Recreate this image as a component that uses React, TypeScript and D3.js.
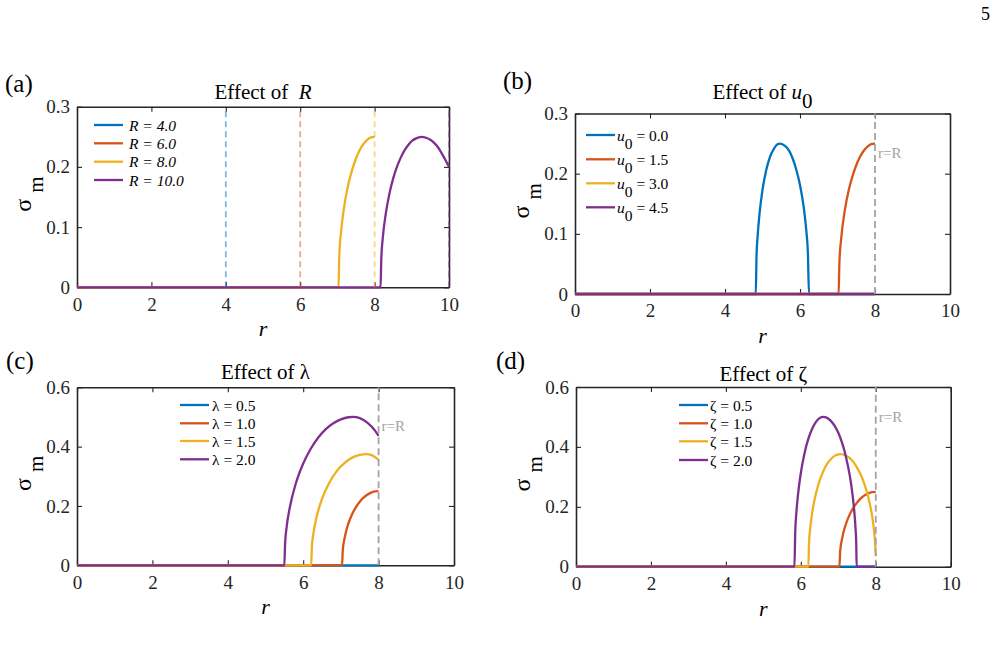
import { useEffect, useRef } from 'react';
import * as d3 from 'd3';

type Pt = [number, number];
type Part = { t: string; it?: boolean; sub?: boolean; size?: number };

const WIDTH = 997;
const HEIGHT = 663;
const SERIF = 'Liberation Serif, Times New Roman, serif';

const BLUE = '#0072BD';
const ORANGE = '#D95319';
const YELLOW = '#EDB120';
const PURPLE = '#7E2F8E';
const COLORS = [BLUE, ORANGE, YELLOW, PURPLE];
const AXIS = '#262626';
const REF_GRAY = '#a3a3a3';

const X_TICKS = [0, 2, 4, 6, 8, 10];
const Y_TICKS_LOW = [0, 0.1, 0.2, 0.3];
const Y_TICKS_HIGH = [0, 0.2, 0.4, 0.6];

// shared branch: onset near r = 7.03, reaching 0.25 at the edge r = 8
const ARC_TO_8: Pt[] = [
  [0, 0], [7.03, 0], [7.05, 0.051], [7.1, 0.093], [7.2, 0.141], [7.3, 0.173], [7.4, 0.196],
  [7.5, 0.214], [7.6, 0.228], [7.7, 0.238], [7.8, 0.245], [7.9, 0.249], [8, 0.25],
];
const ZERO_TO_8: Pt[] = [[0, 0], [8, 0]];

// (a) effect of R
const R_VALUES = [4, 6, 8, 10];
const R_LABELS = ['R = 4.0', 'R = 6.0', 'R = 8.0', 'R = 10.0'];
const SIGMA_R4: Pt[] = [[0, 0], [4, 0]];
const SIGMA_R6: Pt[] = [[0, 0], [6, 0]];
const SIGMA_R8: Pt[] = ARC_TO_8;
const SIGMA_R10: Pt[] = [
  [0, 0], [8.16, 0], [8.18, 0.047], [8.22, 0.082], [8.3, 0.122], [8.4, 0.156], [8.5, 0.181],
  [8.6, 0.2], [8.7, 0.215], [8.8, 0.227], [8.9, 0.236], [9, 0.243], [9.1, 0.247], [9.26, 0.25],
  [9.4, 0.248], [9.5, 0.245], [9.6, 0.24], [9.7, 0.233], [9.8, 0.223], [9.9, 0.212], [10, 0.2],
];

// (b) effect of u0
const U0_LABELS = ['0.0', '1.5', '3.0', '4.5'];
const SIGMA_U00: Pt[] = [
  [0, 0], [4.82, 0], [4.84, 0.062], [4.87, 0.096], [4.92, 0.133], [5, 0.173], [5.1, 0.206],
  [5.2, 0.228], [5.3, 0.241], [5.4, 0.249], [5.47, 0.25], [5.6, 0.246], [5.7, 0.239], [5.8, 0.226],
  [5.9, 0.207], [6, 0.181], [6.1, 0.144], [6.17, 0.104], [6.21, 0.069], [6.24, 0], [8, 0],
];
const SIGMA_U15: Pt[] = ARC_TO_8;
const SIGMA_U30: Pt[] = ZERO_TO_8;
const SIGMA_U45: Pt[] = ZERO_TO_8;

// (c) effect of lambda
const LAMBDA_LABELS = ['0.5', '1.0', '1.5', '2.0'];
const SIGMA_L05: Pt[] = ZERO_TO_8;
const SIGMA_L10: Pt[] = ARC_TO_8;
const SIGMA_L15: Pt[] = [
  [0, 0], [6.21, 0], [6.23, 0.062], [6.27, 0.107], [6.35, 0.16], [6.5, 0.224], [6.7, 0.28],
  [6.9, 0.319], [7.1, 0.345], [7.3, 0.363], [7.5, 0.372], [7.67, 0.375], [7.8, 0.372],
  [7.9, 0.365], [8, 0.355],
];
const SIGMA_L20: Pt[] = [
  [0, 0], [5.5, 0], [5.52, 0.074], [5.56, 0.128], [5.65, 0.198], [5.8, 0.274], [6, 0.343],
  [6.2, 0.393], [6.4, 0.431], [6.6, 0.459], [6.8, 0.479], [7, 0.492], [7.2, 0.499], [7.33, 0.5],
  [7.5, 0.496], [7.7, 0.481], [7.9, 0.455], [8, 0.436],
];

// (d) effect of zeta
const ZETA_LABELS = ['0.5', '1.0', '1.5', '2.0'];
const SIGMA_Z05: Pt[] = ZERO_TO_8;
const SIGMA_Z10: Pt[] = ARC_TO_8;
const SIGMA_Z15: Pt[] = [
  [0, 0], [6.2, 0], [6.22, 0.082], [6.25, 0.127], [6.3, 0.177], [6.4, 0.242], [6.5, 0.287],
  [6.6, 0.319], [6.7, 0.343], [6.8, 0.359], [6.9, 0.37], [7.05, 0.376], [7.2, 0.371], [7.3, 0.363],
  [7.4, 0.35], [7.5, 0.331], [7.6, 0.307], [7.7, 0.275], [7.8, 0.232], [7.9, 0.171], [7.95, 0.125],
  [7.98, 0.084], [8, 0.035],
];
const SIGMA_Z20: Pt[] = [
  [0, 0], [5.83, 0], [5.85, 0.113], [5.88, 0.178], [5.93, 0.246], [6, 0.313], [6.1, 0.38],
  [6.2, 0.427], [6.3, 0.46], [6.4, 0.483], [6.5, 0.496], [6.6, 0.5], [6.7, 0.497], [6.8, 0.487],
  [6.9, 0.471], [7, 0.447], [7.1, 0.414], [7.2, 0.369], [7.3, 0.309], [7.38, 0.241], [7.43, 0.18],
  [7.46, 0.129], [7.48, 0.074], [7.49, 0], [8, 0],
];

interface Panel {
  tag: string;
  box: { l: number; r: number; t: number; b: number };
  yMax: number;
  yTicks: number[];
  series: Pt[][];
  labels: Part[][];
  title: Part[];
  titleY: number;
  tagPos: [number, number];
  legend: { x0: number; x1: number; tx: number; rows: number[]; size: number };
  rDashes?: number[];
  edgeText?: number; // y of the "r=R" note
}

const PANELS: Panel[] = [
  {
    tag: '(a)',
    box: { l: 77, r: 449, t: 106.7, b: 287.3 },
    yMax: 0.3,
    yTicks: Y_TICKS_LOW,
    series: [SIGMA_R4, SIGMA_R6, SIGMA_R8, SIGMA_R10],
    labels: R_LABELS.map((s) => [{ t: s, it: true }]),
    title: [{ t: 'Effect of  ' }, { t: 'R', it: true }],
    titleY: 99.3,
    tagPos: [5, 92],
    legend: { x0: 94, x1: 123, tx: 129, rows: [125, 143.3, 161.7, 180], size: 15.5 },
    rDashes: R_VALUES,
  },
  {
    tag: '(b)',
    box: { l: 575, r: 950, t: 113.5, b: 294 },
    yMax: 0.3,
    yTicks: Y_TICKS_LOW,
    series: [SIGMA_U00, SIGMA_U15, SIGMA_U30, SIGMA_U45],
    labels: U0_LABELS.map((s) => [{ t: 'u', it: true }, { t: '0', sub: true }, { t: ` = ${s}` }]),
    title: [{ t: 'Effect of ' }, { t: 'u', it: true }, { t: '0', sub: true }],
    titleY: 99.3,
    tagPos: [503, 89],
    legend: { x0: 586, x1: 615, tx: 617, rows: [135, 159.3, 183.3, 207.3], size: 15.5 },
    edgeText: 158,
  },
  {
    tag: '(c)',
    box: { l: 77, r: 454, t: 387.3, b: 565.3 },
    yMax: 0.6,
    yTicks: Y_TICKS_HIGH,
    series: [SIGMA_L05, SIGMA_L10, SIGMA_L15, SIGMA_L20],
    labels: LAMBDA_LABELS.map((s) => [{ t: `λ = ${s}` }]),
    title: [{ t: 'Effect of λ' }],
    titleY: 379.3,
    tagPos: [6, 369],
    legend: { x0: 180, x1: 209, tx: 212, rows: [405, 423.3, 441, 459.3], size: 15.5 },
    edgeText: 431,
  },
  {
    tag: '(d)',
    box: { l: 576, r: 950.7, t: 387, b: 566.7 },
    yMax: 0.6,
    yTicks: Y_TICKS_HIGH,
    series: [SIGMA_Z05, SIGMA_Z10, SIGMA_Z15, SIGMA_Z20],
    labels: ZETA_LABELS.map((s) => [{ t: `ζ = ${s}` }]),
    title: [{ t: 'Effect of ζ' }],
    titleY: 381,
    tagPos: [496, 369],
    legend: { x0: 679, x1: 708, tx: 710, rows: [405, 423.3, 441.3, 460], size: 15.5 },
    edgeText: 422,
  },
];

// append styled runs (italic / subscript) to a text element
function richText(
  text: d3.Selection<SVGTextElement, unknown, null, undefined>,
  parts: Part[],
  subShift: number,
) {
  let down = false;
  parts.forEach((p) => {
    const ts = text.append('tspan').text(p.t);
    if (p.it) ts.attr('font-style', 'italic');
    if (p.size) ts.attr('font-size', p.size);
    if (p.sub && !down) {
      ts.attr('dy', subShift);
      down = true;
    } else if (!p.sub && down) {
      ts.attr('dy', -subShift);
      down = false;
    }
  });
}

function drawPanel(svg: d3.Selection<SVGSVGElement, unknown, null, undefined>, p: Panel) {
  const { l, r, t, b } = p.box;
  const x = d3.scaleLinear().domain([0, 10]).range([l, r]);
  const y = d3.scaleLinear().domain([0, p.yMax]).range([b, t]);
  const g = svg.append('g');
  const tick = 5;

  const styleAxis = (sel: d3.Selection<SVGGElement, unknown, null, undefined>) => {
    sel.attr('color', AXIS);
    sel.selectAll('text')
      .attr('font-family', SERIF)
      .attr('font-size', 19)
      .style('font-family', SERIF)
      .style('font-size', '19px');
    sel.select('.domain').attr('stroke-width', 1.6);
    sel.selectAll('.tick line').attr('stroke-width', 1.1);
  };

  // box with inward ticks on all sides
  g.append('g')
    .attr('transform', `translate(0,${b})`)
    .call(d3.axisBottom(x).tickValues(X_TICKS).tickSizeInner(-tick).tickSizeOuter(0).tickPadding(10).tickFormat((d) => String(d)))
    .call(styleAxis);
  g.append('g')
    .attr('transform', `translate(0,${t})`)
    .call(d3.axisTop(x).tickValues(X_TICKS).tickSizeInner(-tick).tickSizeOuter(0).tickFormat(() => ''))
    .call(styleAxis);
  g.append('g')
    .attr('transform', `translate(${l},0)`)
    .call(d3.axisLeft(y).tickValues(p.yTicks).tickSizeInner(-tick).tickSizeOuter(0).tickPadding(7).tickFormat((d) => String(d)))
    .call(styleAxis);
  g.append('g')
    .attr('transform', `translate(${r},0)`)
    .call(d3.axisRight(y).tickValues(p.yTicks).tickSizeInner(-tick).tickSizeOuter(0).tickFormat(() => ''))
    .call(styleAxis);

  // curves
  const line = d3.line<Pt>()
    .x((d) => x(d[0]))
    .y((d) => y(d[1]))
    .curve(d3.curveMonotoneX);
  p.series.forEach((s, i) => {
    g.append('path')
      .datum(s)
      .attr('fill', 'none')
      .attr('stroke', COLORS[i])
      .attr('stroke-width', 2.3)
      .attr('stroke-linejoin', 'round')
      .attr('d', line);
  });

  // dashed markers at each R
  if (p.rDashes) {
    p.rDashes.forEach((v, i) => {
      g.append('line')
        .attr('x1', x(v)).attr('x2', x(v))
        .attr('y1', y(0)).attr('y2', y(p.yMax))
        .attr('stroke', COLORS[i])
        .attr('stroke-opacity', 0.5)
        .attr('stroke-width', 1.8)
        .attr('stroke-dasharray', '6,4');
    });
  }

  // r = R edge
  if (p.edgeText !== undefined) {
    g.append('line')
      .attr('x1', x(8)).attr('x2', x(8))
      .attr('y1', y(0)).attr('y2', y(p.yMax))
      .attr('stroke', REF_GRAY)
      .attr('stroke-width', 1.8)
      .attr('stroke-dasharray', '7,4');
    g.append('text')
      .attr('x', x(8) + 3)
      .attr('y', p.edgeText)
      .attr('font-family', SERIF)
      .attr('font-size', 15)
      .attr('fill', REF_GRAY)
      .text('r=R');
  }

  // legend
  const lg = p.legend;
  p.labels.forEach((parts, i) => {
    const ry = lg.rows[i];
    g.append('line')
      .attr('x1', lg.x0).attr('x2', lg.x1)
      .attr('y1', ry).attr('y2', ry)
      .attr('stroke', COLORS[i])
      .attr('stroke-width', 2.3);
    const txt = g.append('text')
      .attr('x', lg.tx)
      .attr('y', ry + 5.5)
      .attr('font-family', SERIF)
      .attr('font-size', lg.size)
      .attr('fill', '#000')
      .style('white-space', 'pre');
    richText(txt, parts, 8);
  });

  // title
  const title = g.append('text')
    .attr('x', (l + r) / 2)
    .attr('y', p.titleY)
    .attr('text-anchor', 'middle')
    .attr('font-family', SERIF)
    .attr('font-size', 21)
    .attr('fill', '#000')
    .style('white-space', 'pre');
  richText(title, p.title, 9);

  // axis labels
  g.append('text')
    .attr('x', (l + r) / 2)
    .attr('y', b + 49)
    .attr('text-anchor', 'middle')
    .attr('font-family', SERIF)
    .attr('font-style', 'italic')
    .attr('font-size', 22)
    .attr('fill', '#000')
    .text('r');

  const ylab = g.append('text')
    .attr('transform', `translate(${l - 46},${(t + b) / 2 - 3}) rotate(-90)`)
    .attr('text-anchor', 'middle')
    .attr('font-family', SERIF)
    .attr('font-size', 21)
    .attr('fill', '#000')
    .style('white-space', 'pre');
  richText(ylab, [{ t: 'σ ', size: 24 }, { t: 'm', sub: true }], 12);

  // panel tag
  g.append('text')
    .attr('x', p.tagPos[0])
    .attr('y', p.tagPos[1])
    .attr('font-family', SERIF)
    .attr('font-size', 25)
    .attr('fill', '#000')
    .text(p.tag);
}

export default function App() {
  const svgRef = useRef<SVGSVGElement>(null);

  useEffect(() => {
    if (!svgRef.current) return;
    const svg = d3.select(svgRef.current);
    svg.selectAll('*').remove();

    svg.append('rect').attr('width', WIDTH).attr('height', HEIGHT).attr('fill', '#fff');

    // page number
    svg.append('text')
      .attr('x', 990)
      .attr('y', 20)
      .attr('text-anchor', 'end')
      .attr('font-family', SERIF)
      .attr('font-size', 18)
      .attr('fill', '#000')
      .text('5');

    PANELS.forEach((p) => drawPanel(svg, p));
  }, []);

  return (
    <svg
      ref={svgRef}
      width={WIDTH}
      height={HEIGHT}
      viewBox={`0 0 ${WIDTH} ${HEIGHT}`}
      style={{ position: 'absolute', left: 0, top: 0, display: 'block' }}
    />
  );
}
